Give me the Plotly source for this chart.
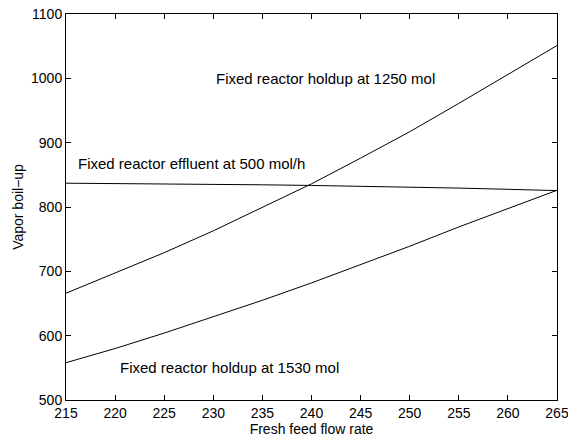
import plotly.graph_objects as go

flow = [215, 220, 225, 230, 235, 240, 245, 250, 255, 260, 265]
holdup_1250 = [666, 697, 729, 763, 799, 836, 876, 917, 961, 1006, 1051]
holdup_1530 = [558, 580, 604, 629, 655, 682, 710, 739, 769, 797, 826]
effluent_500 = [837, 836.6, 836, 835.3, 834.5, 833.5, 832.4, 831, 829.4, 827.5, 825.5]

x_ticks = [215, 220, 225, 230, 235, 240, 245, 250, 255, 260, 265]
y_ticks = [500, 600, 700, 800, 900, 1000, 1100]

labels = [
    ("Fixed reactor holdup at 1250 mol", 241.4, 999),
    ("Fixed reactor effluent at 500 mol/h", 227.8, 868),
    ("Fixed reactor holdup at 1530 mol", 231.6, 550),
]

font = "Liberation Sans, Arial, Helvetica, sans-serif"
FS = 15
TFS = 14

fig = go.Figure()
for ys in (holdup_1250, holdup_1530, effluent_500):
    fig.add_trace(go.Scatter(x=flow, y=ys, mode="lines",
                             line=dict(color="black", width=1), showlegend=False))

for text, x, y in labels:
    fig.add_annotation(x=x, y=y, text=text, showarrow=False,
                       font=dict(size=FS, color="black", family=font))

axis_common = dict(showgrid=False, zeroline=False, showline=True, linecolor="black",
                   linewidth=1, mirror="ticks", ticks="inside", ticklen=5,
                   tickcolor="black", automargin=False, ticklabeloverflow="allow",
                   tickfont=dict(size=TFS, color="black", family=font))

fig.update_xaxes(range=[215, 265], tickvals=x_ticks,
                 title=dict(text="Fresh feed flow rate", font=dict(size=TFS, color="black", family=font), standoff=0),
                 **axis_common)
fig.update_yaxes(range=[500, 1100], tickvals=y_ticks,
                 title=dict(text="Vapor boil\u2212up", font=dict(size=TFS, color="black", family=font), standoff=4),
                 **axis_common)

fig.update_layout(width=568, height=437, margin=dict(l=66, r=11, t=14, b=37),
                  plot_bgcolor="white", paper_bgcolor="white")

fig.write_html("out.html")
